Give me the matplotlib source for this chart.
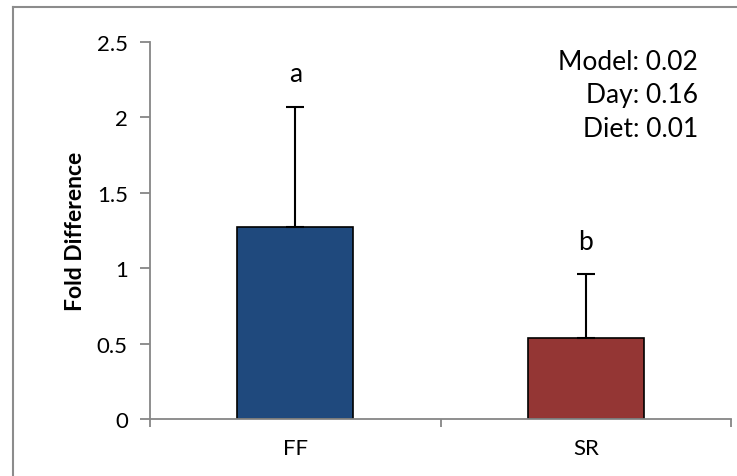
import numpy as np
import matplotlib
matplotlib.use("Agg")
import matplotlib.pyplot as plt
from matplotlib.lines import Line2D

plt.rcParams['font.family'] = ['Lato', 'DejaVu Sans']

groups = ['FF', 'SR']
fold_diff = [1.27, 0.54]
err_up = [0.80, 0.42]
letters = ['a', 'b']
stats_text = ['Model: 0.02', 'Day: 0.16', 'Diet: 0.01']
stats_y = [2.37, 2.15, 1.925]
yticks = [0, 0.5, 1, 1.5, 2, 2.5]
ytick_labels = ['0', '0.5', '1', '1.5', '2', '2.5']

bar_colors = ['#1F497D', '#943634']
axis_grey = '#868686'

fig = plt.figure(figsize=(7.37, 4.77), dpi=100)
# outer chart frame: only its top and left edges fall inside the picture
fx, fy = 12.5/737, 1 - 8/477
fig.lines.append(Line2D([fx, fx], [0, fy], transform=fig.transFigure,
                        color='#8c8c8c', lw=1.5))
fig.lines.append(Line2D([fx, 0.999], [fy, fy], transform=fig.transFigure,
                        color='#8c8c8c', lw=1.5))

ax = fig.add_axes([150/737, 57/477, 581/737, 377/477])
x = np.arange(len(groups)) + 0.5
ax.bar(x, fold_diff, width=0.40, color=bar_colors, edgecolor='black', lw=1.2,
       zorder=2)
ax.errorbar(x, fold_diff, yerr=[np.zeros(len(groups)), err_up], fmt='none',
            ecolor='black', elinewidth=1.5, capsize=6.5, capthick=1.5, zorder=3)

for xi, v, e, lab in zip(x, fold_diff, err_up, letters):
    ax.text(xi, v + e + 0.22, lab, ha='center', va='center', fontsize=19)

for t, ty in zip(stats_text, stats_y):
    ax.text(1.886, ty, t, ha='right', va='center', fontsize=19)

ax.set_xlim(0, 2)
ax.set_ylim(0, 2.5)
ax.set_yticks(yticks)
ax.set_yticklabels(ytick_labels, fontsize=16)
ax.set_xticks(x)
ax.set_xticklabels(groups, fontsize=16)
ax.set_xticks([0, 1, 2], minor=True)
ax.tick_params(axis='x', which='major', length=0, pad=14)
ax.tick_params(axis='x', which='minor', length=6, width=1.3, color=axis_grey)
ax.tick_params(axis='y', length=7, width=1.3, color=axis_grey, pad=9)
ax.set_ylabel('Fold Difference', fontsize=16.5, fontweight='bold', labelpad=8)

for s in ['top', 'right']:
    ax.spines[s].set_visible(False)
for s in ['left', 'bottom']:
    ax.spines[s].set_color(axis_grey)
    ax.spines[s].set_linewidth(1.3)

fig.savefig('out.png', dpi=100)
